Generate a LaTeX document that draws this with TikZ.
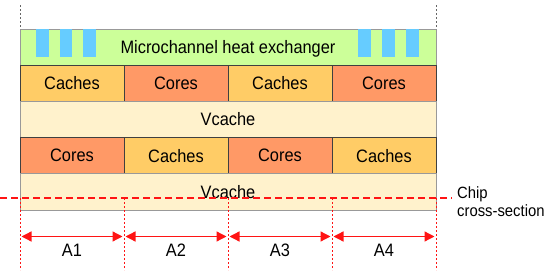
\documentclass[tikz,border=0pt]{standalone}
\usepackage{fontspec}
\setmainfont{Liberation Sans}[FakeStretch=0.91]
\usetikzlibrary{arrows.meta, positioning, calc}
\definecolor{hxgreen}{RGB}{204,255,153}
\definecolor{chanblue}{RGB}{102,204,255}
\definecolor{cachecol}{RGB}{255,204,102}
\definecolor{corecol}{RGB}{255,153,102}
\definecolor{vcachecol}{RGB}{255,242,204}
\definecolor{cutred}{RGB}{255,20,20}
\tikzset{
    blockbox/.style={draw=black!75, line width=0.8pt, minimum width=104pt, minimum height=36.2pt, inner sep=0pt, font=\fontsize{18}{21}\selectfont},
    layerbox/.style={draw=black!40, line width=0.8pt, minimum width=416pt, minimum height=36.2pt, inner sep=0pt, font=\fontsize{18}{21}\selectfont},
    cutline/.style={cutred, line width=1.2pt, dash pattern=on 7pt off 4pt},
    cutdot/.style={cutred, line width=0.6pt, dash pattern=on 2pt off 2pt},
    edgedot/.style={black!60, line width=0.6pt, dash pattern=on 2pt off 2pt},
    sizearrow/.style={cutred, line width=1.3pt, {Triangle[length=10pt,width=10pt]}-{Triangle[length=10pt,width=10pt]}}
}

\begin{document}
\begin{tikzpicture}[x=1pt, y=-1pt]
    \useasboundingbox (0,0) rectangle (550,276);

    % Scambiatore a microcanali
    \node[layerbox, fill=hxgreen] (hx) at (228,47.1) {};
    \foreach \x in {36, 59.5, 83, 358, 382, 406} {
        \fill[chanblue] (\x,29) rectangle ++(12.5,28);
    }
    \node[font=\fontsize{18}{21}\selectfont] (hxlabel) at (228,48.5) {Microchannel heat exchanger};

    % Strati di core e cache
    \foreach \name/\col [count=\i] in {Caches/cachecol, Cores/corecol, Caches/cachecol, Cores/corecol} {
        \node[blockbox, fill=\col] (up\i) at ({20+104*(\i-0.5)},83.3) {\name};
    }
    \node[layerbox, fill=vcachecol] (vc1) at (228,119.5) {Vcache};
    \foreach \name/\col [count=\i] in {Cores/corecol, Caches/cachecol, Cores/corecol, Caches/cachecol} {
        \node[blockbox, fill=\col] (lo\i) at ({20+104*(\i-0.5)},155.7) {\name};
    }
    \node[layerbox, fill=vcachecol] (vc2) at (228,191.9) {Vcache};

    % Bordi tratteggiati in alto
    \coordinate (gtl) at (20,5);
    \coordinate (gbl) at (20,29);
    \coordinate (gtr) at (436,5);
    \coordinate (gbr) at (436,29);
    \draw[edgedot] (gtl) -- (gbl);
    \draw[edgedot] (gtr) -- (gbr);

    % Sezione del chip
    \coordinate (cutL) at (0,198);
    \coordinate (cutR) at (452,198);
    \draw[cutline] (cutL) -- (cutR);
    \node[anchor=west, align=left, inner sep=0pt, font=\fontsize{16.3}{17.6}\selectfont] (chip) at (457,201.5) {Chip\\cross-section};

    % Divisori e aree
    \foreach \i in {0,...,4} {
        \coordinate (dt\i) at ({20+104*\i},198);
        \coordinate (db\i) at ({20+104*\i},270);
        \coordinate (da\i) at ({20+104*\i},236.5);
        \draw[cutdot] (dt\i) -- (db\i);
    }
    \foreach \i in {1,...,4} {
        \pgfmathtruncatemacro{\j}{\i-1}
        \draw[sizearrow] ($(da\j)+(1.5,0)$) -- ($(da\i)+(-1.5,0)$);
        \node[font=\fontsize{18}{21}\selectfont] (area\i) at ($(da\j)!0.5!(da\i)+(0,14)$) {A\i};
    }
\end{tikzpicture}
\end{document}
